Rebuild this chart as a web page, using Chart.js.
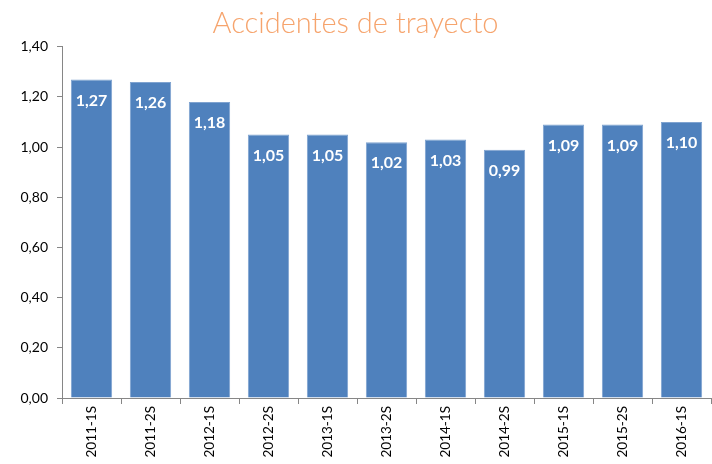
<!DOCTYPE html>
<html>
<head>
<meta charset="utf-8">
<script src="https://cdn.jsdelivr.net/npm/chart.js@4"></script>
<style>
  html, body { margin: 0; padding: 0; background: #fff; }
  #wrap { width: 712px; height: 464px; }
</style>
</head>
<body>
<div id="wrap"><canvas id="myChart" width="712" height="464"></canvas></div>
<script>
const periods = ['2011-1S', '2011-2S', '2012-1S', '2012-2S', '2013-1S', '2013-2S', '2014-1S', '2014-2S', '2015-1S', '2015-2S', '2016-1S'];
const accidentRates = [1.27, 1.26, 1.18, 1.05, 1.05, 1.02, 1.03, 0.99, 1.09, 1.09, 1.10];
const yTicks = [0, 0.2, 0.4, 0.6, 0.8, 1.0, 1.2, 1.4];

const fmt = v => v.toFixed(2).replace('.', ',');

// white value labels inside the top of each bar
const barLabels = {
    id: 'barLabels',
    afterDatasetsDraw(chart) {
        const ctx = chart.ctx;
        const meta = chart.getDatasetMeta(0);
        ctx.save();
        ctx.fillStyle = '#ffffff';
        ctx.font = 'bold 16px Lato, "Open Sans", sans-serif';
        ctx.textAlign = 'center';
        ctx.textBaseline = 'middle';
        meta.data.forEach((bar, i) => {
            ctx.fillText(fmt(accidentRates[i]), bar.x, bar.y + 21);
        });
        ctx.restore();
    }
};

const myChart = new Chart(document.getElementById('myChart'), {
    type: 'bar',
    data: {
        labels: periods,
        datasets: [{
            data: accidentRates,
            backgroundColor: '#4F81BD',
            borderColor: '#7FA3D0',
            borderWidth: {left: 1, right: 1, top: 1, bottom: 0},
            categoryPercentage: 1,
            barPercentage: 0.7
        }]
    },
    options: {
        responsive: false,
        animation: false,
        layout: { padding: { left: 0, right: 1, top: 0, bottom: 0 } },
        plugins: {
            legend: { display: false },
            tooltip: { enabled: false },
            title: {
                display: true,
                text: 'Accidentes de trayecto',
                color: '#F6A46D',
                font: { family: 'Lato, "Open Sans", sans-serif', size: 29, weight: '300' },
                padding: { top: 6, bottom: 6 }
            }
        },
        scales: {
            x: {
                grid: { offset: true, drawOnChartArea: false, drawTicks: true, tickLength: 6, color: '#868686' },
                border: { color: '#868686', width: 1 },
                ticks: {
                    color: '#000',
                    font: { family: 'Lato, "Open Sans", sans-serif', size: 13.5 },
                    minRotation: 90,
                    maxRotation: 90,
                    padding: 2
                },
                afterFit(scale) { scale.height = 66; }
            },
            y: {
                min: 0,
                max: 1.4,
                afterBuildTicks(scale) { scale.ticks = yTicks.map(v => ({ value: v })); },
                grid: { drawOnChartArea: false, drawTicks: true, tickLength: 5, color: '#868686' },
                border: { color: '#868686', width: 1 },
                ticks: {
                    color: '#000',
                    font: { family: 'Lato, "Open Sans", sans-serif', size: 14 },
                    padding: 9,
                    callback: v => fmt(v)
                },
                afterFit(scale) { scale.width = 62; }
            }
        }
    },
    plugins: [barLabels]
});
</script>
</body>
</html>
